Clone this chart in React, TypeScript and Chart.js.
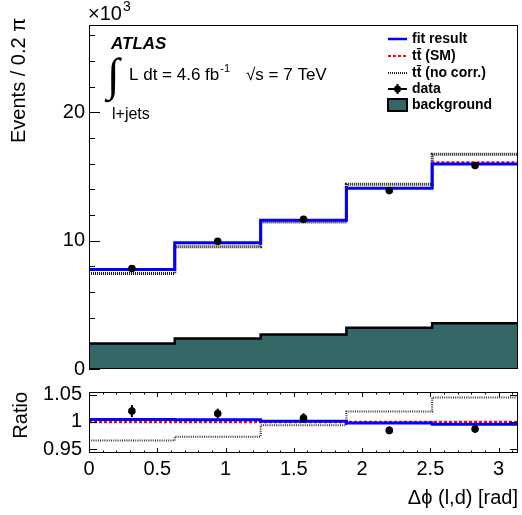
import React, { useEffect, useRef } from "react";
import { Chart, registerables } from "chart.js";

Chart.register(...registerables);

// ---- data (main panel values in units of 10^3 events) ----
const binEdges = [0, 0.628, 1.257, 1.885, 2.513, 3.1416];
const fitResult = [7.75, 9.83, 11.59, 14.08, 15.98];
const ttSM = [7.72, 9.79, 11.57, 14.11, 16.1];
const ttNoCorr = [7.44, 9.52, 11.46, 14.39, 16.73];
const dataValues = [7.83, 9.95, 11.67, 13.9, 15.85];
const dataErrors = [0.12, 0.12, 0.12, 0.12, 0.12];
const background = [1.99, 2.38, 2.69, 3.21, 3.57];

// ---- ratio panel ----
const ratioFit = [1.0045, 1.004, 1.0013, 0.998, 0.996];
const ratioSM = [1.0, 1.0, 1.0, 1.0, 1.0];
const ratioNoCorr = [0.966, 0.973, 0.994, 1.019, 1.045];
const ratioData = [1.02, 1.0155, 1.007, 0.9845, 0.987];
const ratioDataErrors = [0.011, 0.009, 0.009, 0.007, 0.007];

const mainYTicks = [0, 10, 20];
const ratioYTicks = [0.95, 1, 1.05];
const xTickLabels = [0, 0.5, 1, 1.5, 2, 2.5, 3];

const FONT = "'Liberation Sans', Arial, Helvetica, sans-serif";
const TEAL = "#356767";
const W = 522;
const MAIN_H = 380;
const RATIO_TOP = 380;
const RATIO_H = 135;

const centers = binEdges.slice(0, -1).map((e, i) => (e + binEdges[i + 1]) / 2);
const steps = (vals: number[]) =>
  binEdges.map((e, i) => ({ x: e, y: vals[Math.min(i, vals.length - 1)] }));
const points = (vals: number[]) => vals.map((v, i) => ({ x: centers[i], y: v }));

function histDataset(label: string, vals: number[], color: string, width: number, dash: number[] = [], extra: any = {}) {
  return {
    type: "line",
    label,
    data: steps(vals),
    stepped: true,
    borderColor: color,
    borderWidth: width,
    borderDash: dash,
    pointRadius: 0,
    fill: false,
    ...extra,
  };
}

function drawErrors(chart: any, vals: number[], errs: number[]) {
  const ctx = chart.ctx;
  const xs = chart.scales.x;
  const ys = chart.scales.y;
  ctx.save();
  ctx.strokeStyle = "#000";
  ctx.lineWidth = 2;
  vals.forEach((v, i) => {
    const x = xs.getPixelForValue(centers[i]);
    ctx.beginPath();
    ctx.moveTo(x, ys.getPixelForValue(v - errs[i]));
    ctx.lineTo(x, ys.getPixelForValue(v + errs[i]));
    ctx.stroke();
  });
  ctx.restore();
}

const mainPlugin = {
  id: "mainDecor",
  beforeDatasetsDraw(chart: any) {
    drawErrors(chart, dataValues, dataErrors);
  },
  afterDraw(chart: any) {
    const ctx = chart.ctx;
    const a = chart.chartArea;
    const ys = chart.scales.y;
    ctx.save();
    // frame
    ctx.strokeStyle = "#000";
    ctx.lineWidth = 1;
    ctx.strokeRect(a.left + 0.5, a.top + 0.5, a.right - a.left - 1, a.bottom - a.top - 1);
    // y ticks
    for (let v = 0; v <= ys.max; v += 2) {
      const y = Math.round(ys.getPixelForValue(v)) + 0.5;
      const len = v % 10 === 0 ? 11 : 6;
      ctx.beginPath();
      ctx.moveTo(a.left, y);
      ctx.lineTo(a.left + len, y);
      ctx.stroke();
    }
    ctx.fillStyle = "#000";
    ctx.textBaseline = "alphabetic";
    ctx.textAlign = "left";
    // x10^3
    ctx.font = `20px ${FONT}`;
    ctx.fillText("\u00d710", 88, 20);
    const w10 = ctx.measureText("\u00d710").width;
    ctx.font = `14px ${FONT}`;
    ctx.fillText("3", 88 + w10 + 1, 11);
    // ATLAS
    ctx.font = `italic bold 17px ${FONT}`;
    ctx.fillText("ATLAS", 111, 49);
    // integral
    ctx.font = `46px 'Liberation Serif', 'DejaVu Serif', serif`;
    ctx.fillText("\u222b", 107, 90);
    ctx.font = `17px ${FONT}`;
    ctx.fillText("L dt = 4.6 fb", 129, 80);
    const wl = ctx.measureText("L dt = 4.6 fb").width;
    ctx.font = `11px ${FONT}`;
    ctx.fillText("-1", 129 + wl + 1, 72);
    ctx.font = `17px ${FONT}`;
    ctx.fillText("\u221as = 7 TeV", 246, 80);
    ctx.font = `16px ${FONT}`;
    ctx.fillText("l+jets", 112, 119);

    // legend
    const lx0 = 388, lx1 = 407, tx = 412;
    const rows = [39, 56, 73, 89, 105];
    ctx.lineCap = "butt";
    ctx.strokeStyle = "#0000ff";
    ctx.lineWidth = 2.5;
    ctx.beginPath(); ctx.moveTo(lx0, rows[0]); ctx.lineTo(lx1, rows[0]); ctx.stroke();
    ctx.strokeStyle = "#ff0000";
    ctx.lineWidth = 2;
    ctx.setLineDash([3, 2]);
    ctx.beginPath(); ctx.moveTo(lx0, rows[1]); ctx.lineTo(lx1, rows[1]); ctx.stroke();
    ctx.strokeStyle = "#222";
    ctx.lineWidth = 2;
    ctx.setLineDash([1, 1]);
    ctx.beginPath(); ctx.moveTo(lx0, rows[2]); ctx.lineTo(lx1, rows[2]); ctx.stroke();
    ctx.setLineDash([]);
    ctx.strokeStyle = "#000";
    ctx.lineWidth = 2;
    ctx.beginPath(); ctx.moveTo(lx0, rows[3]); ctx.lineTo(lx1, rows[3]); ctx.stroke();
    ctx.beginPath(); ctx.moveTo((lx0 + lx1) / 2, rows[3] - 5); ctx.lineTo((lx0 + lx1) / 2, rows[3] + 5); ctx.stroke();
    ctx.beginPath(); ctx.arc((lx0 + lx1) / 2, rows[3], 3.5, 0, Math.PI * 2); ctx.fill();
    ctx.fillStyle = TEAL;
    ctx.fillRect(lx0, rows[4] - 6, lx1 - lx0, 12);
    ctx.strokeStyle = "#000";
    ctx.lineWidth = 2;
    ctx.strokeRect(lx0, rows[4] - 6, lx1 - lx0, 12);
    ctx.fillStyle = "#000";
    ctx.font = `bold 14px ${FONT}`;
    ctx.textBaseline = "middle";
    ctx.fillText("fit result", tx, rows[0]);
    ctx.fillText("tt\u0304 (SM)", tx, rows[1]);
    ctx.fillText("tt\u0304 (no corr.)", tx, rows[2]);
    ctx.fillText("data", tx, rows[3]);
    ctx.fillText("background", tx, rows[4]);

    // y title
    ctx.font = `20px ${FONT}`;
    ctx.textBaseline = "alphabetic";
    ctx.textAlign = "right";
    ctx.translate(25, 18);
    ctx.rotate(-Math.PI / 2);
    ctx.fillText("Events / 0.2 \u03c0", 0, 0);
    ctx.restore();
  },
};

const ratioPlugin = {
  id: "ratioDecor",
  beforeDatasetsDraw(chart: any) {
    drawErrors(chart, ratioData, ratioDataErrors);
  },
  afterDraw(chart: any) {
    const ctx = chart.ctx;
    const a = chart.chartArea;
    const xs = chart.scales.x;
    const ys = chart.scales.y;
    ctx.save();
    ctx.strokeStyle = "#000";
    ctx.lineWidth = 1;
    ctx.strokeRect(a.left + 0.5, a.top + 0.5, a.right - a.left - 1, a.bottom - a.top - 1);
    for (let i = 0; i <= 31; i++) {
      const v = i / 10;
      const x = Math.round(xs.getPixelForValue(v)) + 0.5;
      const len = i % 5 === 0 ? 5 : 2.5;
      ctx.beginPath();
      ctx.moveTo(x, a.bottom); ctx.lineTo(x, a.bottom - len);
      ctx.moveTo(x, a.top); ctx.lineTo(x, a.top + len);
      ctx.stroke();
    }
    ratioYTicks.forEach((v) => {
      const y = Math.round(ys.getPixelForValue(v)) + 0.5;
      ctx.beginPath();
      ctx.moveTo(a.left, y); ctx.lineTo(a.left + 8, y);
      ctx.moveTo(a.right, y); ctx.lineTo(a.right - 8, y);
      ctx.stroke();
    });
    ctx.fillStyle = "#000";
    ctx.font = `20px ${FONT}`;
    ctx.textAlign = "right";
    ctx.textBaseline = "alphabetic";
    ctx.fillText("\u0394\u03d5 (l,d) [rad]", 518, 504 - RATIO_TOP);
    ctx.translate(27, 392 - RATIO_TOP);
    ctx.rotate(-Math.PI / 2);
    ctx.fillText("Ratio", 0, 0);
    ctx.restore();
  },
};

const fixY = (w: number) => (scale: any) => {
  scale.width = w;
  scale.paddingTop = 0;
  scale.paddingBottom = 0;
};

export default function App() {
  const mainRef = useRef<HTMLCanvasElement>(null);
  const ratioRef = useRef<HTMLCanvasElement>(null);

  useEffect(() => {
    const tickFont = { family: FONT, size: 20 };
    const main = new Chart(mainRef.current as HTMLCanvasElement, {
      type: "line",
      data: {
        datasets: [
          {
            type: "scatter",
            label: "data",
            data: points(dataValues),
            pointRadius: 3.8,
            pointBackgroundColor: "#000",
            pointBorderWidth: 0,
            showLine: false,
          } as any,
          histDataset("fit result", fitResult, "#0000ff", 3),
          histDataset("tt (SM)", ttSM, "#ff0000", 2, [3, 2]),
          histDataset("tt (no corr.)", ttNoCorr, "#111111", 3, [1, 1]),
          histDataset("background", background, "#000000", 2.5, [], {
            fill: "origin",
            backgroundColor: TEAL,
          }),
        ],
      },
      options: {
        responsive: false,
        animation: false,
        devicePixelRatio: 1,
        layout: { padding: { top: 25, right: 2, bottom: 11, left: 0 } },
        plugins: { legend: { display: false }, tooltip: { enabled: false } },
        scales: {
          x: { type: "linear", min: 0, max: 3.1416, display: false },
          y: {
            type: "linear",
            min: 0,
            max: 26.8,
            afterFit: fixY(89),
            afterBuildTicks: (s: any) => {
              s.ticks = mainYTicks.map((v) => ({ value: v }));
            },
            grid: { display: false, drawTicks: false },
            border: { display: false },
            ticks: { font: tickFont, color: "#000", padding: 4, callback: (v: any) => String(v) },
          },
        },
      } as any,
      plugins: [mainPlugin],
    });

    const ratio = new Chart(ratioRef.current as HTMLCanvasElement, {
      type: "line",
      data: {
        datasets: [
          {
            type: "scatter",
            label: "data",
            data: points(ratioData),
            pointRadius: 3.8,
            pointBackgroundColor: "#000",
            pointBorderWidth: 0,
            showLine: false,
          } as any,
          histDataset("fit result", ratioFit, "#0000ff", 3),
          histDataset("tt (SM)", ratioSM, "#ff0000", 2.5, [3, 2]),
          histDataset("tt (no corr.)", ratioNoCorr, "#333333", 2, [1, 1.2]),
        ],
      },
      options: {
        responsive: false,
        animation: false,
        devicePixelRatio: 1,
        layout: { padding: { top: 12, right: 2, bottom: 0, left: 0 } },
        plugins: { legend: { display: false }, tooltip: { enabled: false } },
        scales: {
          x: {
            type: "linear",
            min: 0,
            max: 3.1416,
            afterFit: (s: any) => {
              s.height = 62;
              s.paddingLeft = 0;
              s.paddingRight = 0;
            },
            afterBuildTicks: (s: any) => {
              s.ticks = xTickLabels.map((v) => ({ value: v }));
            },
            grid: { display: false, drawTicks: false },
            border: { display: false },
            ticks: { font: tickFont, color: "#000", padding: 4, maxRotation: 0, autoSkip: false, callback: (v: any) => String(v) },
          },
          y: {
            type: "linear",
            min: 0.943,
            max: 1.055,
            afterFit: fixY(89),
            afterBuildTicks: (s: any) => {
              s.ticks = ratioYTicks.map((v) => ({ value: v }));
            },
            grid: { display: false, drawTicks: false },
            border: { display: false },
            ticks: {
              font: tickFont,
              color: "#000",
              padding: 7,
              callback: (v: any) => (v === 1 ? "1" : Number(v).toFixed(2)),
            },
          },
        },
      } as any,
      plugins: [ratioPlugin],
    });

    return () => {
      main.destroy();
      ratio.destroy();
    };
  }, []);

  return (
    <div style={{ position: "fixed", left: 0, top: 0, width: W, height: 515, background: "#fff" }}>
      <canvas ref={mainRef} width={W} height={MAIN_H} style={{ position: "absolute", left: 0, top: 0 }} />
      <canvas ref={ratioRef} width={W} height={RATIO_H} style={{ position: "absolute", left: 0, top: RATIO_TOP }} />
    </div>
  );
}
